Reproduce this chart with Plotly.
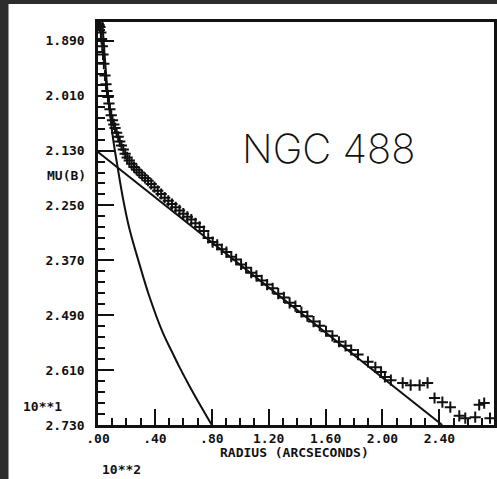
import plotly.graph_objects as go

# Observed surface-brightness profile (radius in units of 10**2 arcsec, mu in units of 10**1 mag)
radius = [0.003, 0.008, 0.014, 0.020, 0.025, 0.030, 0.035, 0.041, 0.049, 0.056, 0.063, 0.070,
          0.077, 0.084, 0.093, 0.102, 0.111, 0.120, 0.131, 0.142, 0.153, 0.165, 0.178, 0.191,
          0.205, 0.220, 0.236, 0.253, 0.271, 0.290, 0.310, 0.331, 0.352, 0.374, 0.397, 0.420,
          0.444, 0.469, 0.494, 0.520, 0.546, 0.573, 0.600, 0.628, 0.656, 0.685, 0.714, 0.744,
          0.775, 0.806, 0.838, 0.870, 0.903, 0.937, 0.971, 1.006, 1.041, 1.077, 1.114, 1.151,
          1.189, 1.228, 1.267, 1.307, 1.347, 1.388, 1.430, 1.472, 1.515, 1.559, 1.603, 1.648,
          1.694, 1.740, 1.780, 1.828, 1.898, 1.950, 1.990, 2.017, 2.059, 2.142, 2.198, 2.261,
          2.317, 2.366, 2.421, 2.477, 2.540, 2.582, 2.652, 2.680, 2.715, 2.756]
mu = [1.853, 1.856, 1.860, 1.872, 1.886, 1.902, 1.920, 1.940, 1.966, 1.985, 2.000, 2.013,
      2.027, 2.040, 2.053, 2.064, 2.073, 2.081, 2.091, 2.100, 2.110, 2.119, 2.128, 2.137,
      2.145, 2.152, 2.159, 2.166, 2.172, 2.178, 2.184, 2.190, 2.196, 2.203, 2.210, 2.218,
      2.225, 2.233, 2.240, 2.247, 2.254, 2.261, 2.268, 2.275, 2.281, 2.289, 2.297, 2.306,
      2.321, 2.330, 2.336, 2.346, 2.352, 2.362, 2.368, 2.379, 2.386, 2.397, 2.404, 2.414,
      2.423, 2.431, 2.443, 2.451, 2.463, 2.470, 2.483, 2.492, 2.504, 2.513, 2.525, 2.535,
      2.548, 2.557, 2.566, 2.576, 2.592, 2.604, 2.614, 2.625, 2.632, 2.638, 2.643, 2.643,
      2.638, 2.671, 2.680, 2.691, 2.710, 2.715, 2.713, 2.686, 2.682, 2.715]

# Bulge model curve
bulge_r = [0.028, 0.035, 0.050, 0.070, 0.090, 0.110, 0.133, 0.174, 0.220, 0.293, 0.360,
           0.454, 0.520, 0.572, 0.640, 0.712, 0.800]
bulge_mu = [1.840, 1.870, 1.935, 2.010, 2.065, 2.113, 2.157, 2.232, 2.300, 2.380, 2.448,
            2.527, 2.570, 2.603, 2.643, 2.683, 2.730]

# Disk model line
disk_r = [0.0, 2.42]
disk_mu = [2.133, 2.730]

x_tickvals = [0.0, 0.4, 0.8, 1.2, 1.6, 2.0, 2.4]
x_ticktext = [".00", ".40", ".80", "1.20", "1.60", "2.00", "2.40"]
y_tickvals = [1.89, 2.01, 2.13, 2.25, 2.37, 2.49, 2.61, 2.73]
y_ticktext = ["1.890", "2.010", "2.130", "2.250", "2.370", "2.490", "2.610", "2.730"]

INK = "#111111"
LBL = dict(family="DejaVu Sans Mono", size=13, color=INK, weight="bold")

fig = go.Figure()
fig.add_trace(go.Scatter(x=bulge_r, y=bulge_mu, mode="lines", line=dict(color=INK, width=2, shape="spline"),
                         showlegend=False, hoverinfo="skip"))
fig.add_trace(go.Scatter(x=disk_r, y=disk_mu, mode="lines", line=dict(color=INK, width=2),
                         showlegend=False, hoverinfo="skip"))
fig.add_trace(go.Scatter(x=radius, y=mu, mode="markers",
                         marker=dict(symbol="cross-thin", size=8, line=dict(width=2, color=INK)),
                         showlegend=False))

axis_common = dict(showgrid=False, zeroline=False, showline=True, linecolor=INK, linewidth=2.5,
                   mirror=True, ticks="inside", ticklen=16, tickwidth=2, tickcolor=INK,
                   tickfont=LBL)

fig.update_xaxes(range=[0, 2.784], tickmode="array", tickvals=x_tickvals, ticktext=x_ticktext,
                 ticklabelstandoff=0,
                 minor=dict(dtick=0.1, tick0=0, ticks="inside", ticklen=7, tickwidth=2, tickcolor=INK),
                 **axis_common)
fig.update_yaxes(range=[2.73, 1.849], tickmode="array", tickvals=y_tickvals, ticktext=y_ticktext,
                 ticklabelstandoff=8,
                 minor=dict(dtick=0.024, tick0=1.89, ticks="inside", ticklen=7, tickwidth=2, tickcolor=INK),
                 **axis_common)

fig.add_shape(type="rect", xref="paper", yref="paper", x0=-0.226, x1=1.05, y0=-0.2, y1=1.0447,
              fillcolor="white", line=dict(width=0), layer="below")

fig.add_annotation(text="NGC 488", xref="paper", yref="paper", x=0.581, y=0.685,
                   xanchor="center", yanchor="middle", showarrow=False,
                   font=dict(family="Inter", size=40, color=INK, weight=200))
fig.add_annotation(text="MU(B)", xref="paper", yref="paper", x=-0.025, y=0.618,
                   xanchor="right", yanchor="middle", showarrow=False, font=LBL)
fig.add_annotation(text="10**1", xref="paper", yref="paper", x=-0.195, y=0.045,
                   xanchor="left", yanchor="middle", showarrow=False, font=LBL)
fig.add_annotation(text="RADIUS (ARCSECONDS)", xref="paper", yref="paper", x=0.496, y=-0.068,
                   xanchor="center", yanchor="middle", showarrow=False, font=LBL)
fig.add_annotation(text="10**2", xref="paper", yref="paper", x=0.005, y=-0.11,
                   xanchor="left", yanchor="middle", showarrow=False, font=LBL)

fig.update_layout(width=497, height=479, margin=dict(l=98, r=0, t=22, b=54),
                  paper_bgcolor="#2d2d2d", plot_bgcolor="white")

fig.write_html("out.html")
